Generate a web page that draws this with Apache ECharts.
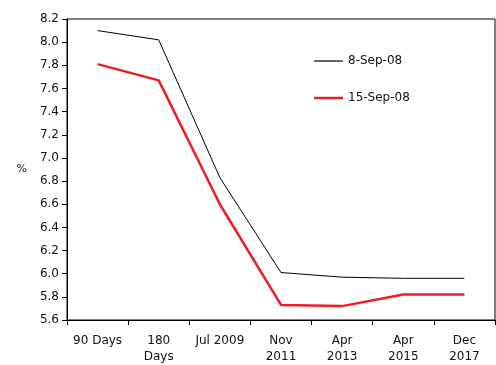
<!DOCTYPE html>
<html>
<head>
<meta charset="utf-8">
<script src="https://cdn.jsdelivr.net/npm/echarts@6/dist/echarts.min.js"></script>
<style>
  html, body { margin: 0; padding: 0; background: #fff; }
  #main { width: 496px; height: 365px; }
</style>
</head>
<body>
<div id="main"></div>
<script>
// categories (maturities)
var categories = ['90 Days', '180\nDays', 'Jul 2009', 'Nov\n2011', 'Apr\n2013', 'Apr\n2015', 'Dec\n2017'];
// yields in %
var sep08 = [8.10, 8.02, 6.83, 6.01, 5.97, 5.96, 5.96];
var sep15 = [7.81, 7.67, 6.60, 5.73, 5.72, 5.82, 5.82];
var seriesNames = ['8-Sep-08', '15-Sep-08'];

var chart = echarts.init(document.getElementById('main'));
var font = 'DejaVu Sans';

function legendFor(name, top, h) {
  return {
    orient: 'vertical',
    left: 309, top: top,
    icon: 'rect',
    itemWidth: 29, itemHeight: h,
    textStyle: { fontFamily: font, fontSize: 12, color: '#111' },
    data: [name]
  };
}

var option = {
  animation: false,
  textStyle: { fontFamily: font },
  grid: {
    left: 67, right: 1, top: 19, bottom: 45,
    outerBoundsMode: 'none',
    show: true, borderColor: '#000', borderWidth: 1
  },
  legend: [
    legendFor(seriesNames[0], 50, 1.2),
    legendFor(seriesNames[1], 87, 2.5)
  ],
  xAxis: {
    type: 'category',
    data: categories,
    boundaryGap: true,
    axisLine: { lineStyle: { color: '#000', width: 1 } },
    axisTick: { show: true, length: 5, inside: false, lineStyle: { color: '#000' } },
    axisLabel: { color: '#111', fontSize: 12, margin: 13, lineHeight: 16, interval: 0, fontFamily: font },
    splitLine: { show: false }
  },
  yAxis: {
    type: 'value',
    min: 5.6, max: 8.2, interval: 0.2,
    name: '%', nameLocation: 'middle', nameGap: 40, nameRotate: 0,
    nameTextStyle: { color: '#111', fontSize: 11, fontFamily: font },
    axisLine: { show: true, lineStyle: { color: '#000', width: 1 } },
    axisTick: { show: true, length: 5, lineStyle: { color: '#000' } },
    axisLabel: {
      color: '#111', fontSize: 12, margin: 8, fontFamily: font,
      formatter: function (v) { return v.toFixed(1); }
    },
    splitLine: { show: false }
  },
  series: [
    {
      name: seriesNames[0], type: 'line', data: sep08,
      symbol: 'none', lineStyle: { color: '#000', width: 1 }, itemStyle: { color: '#000' }
    },
    {
      name: seriesNames[1], type: 'line', data: sep15,
      symbol: 'none', lineStyle: { color: '#ee1c25', width: 2.5 }, itemStyle: { color: '#ee1c25' }
    }
  ]
};
chart.setOption(option);
</script>
</body>
</html>
